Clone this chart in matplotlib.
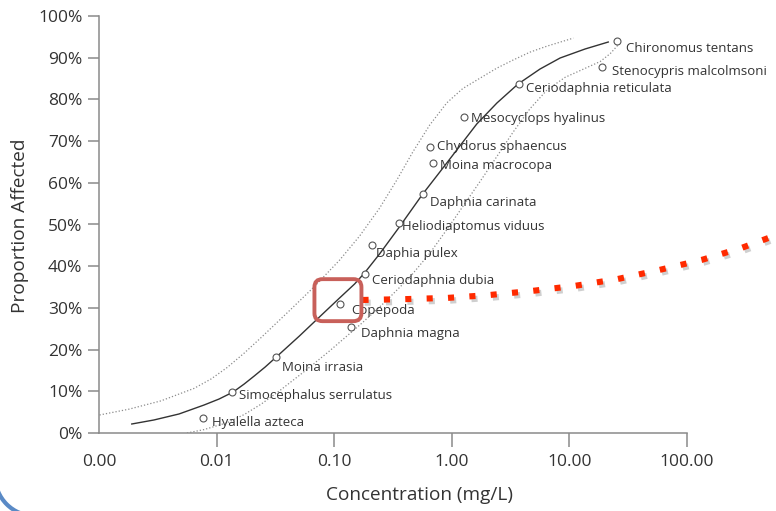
import numpy as np
import matplotlib
matplotlib.use("Agg")
import matplotlib.pyplot as plt
from matplotlib.patches import FancyBboxPatch, Arc
from matplotlib.transforms import Affine2D, IdentityTransform
import matplotlib.patheffects as pe

plt.rcParams['font.family'] = ['Open Sans', 'DejaVu Sans']

# species sensitivity points (mg/L, % affected)
species = ['Chironomus tentans', 'Stenocypris malcolmsoni', 'Ceriodaphnia reticulata',
           'Mesocyclops hyalinus', 'Chydorus sphaencus', 'Moina macrocopa',
           'Daphnia carinata', 'Heliodiaptomus viduus', 'Daphia pulex',
           'Ceriodaphnia dubia', 'Copepoda', 'Daphnia magna', 'Moina irrasia',
           'Simocephalus serrulatus', 'Hyalella azteca']
conc = [25.5, 19.0, 3.73, 1.27, 0.649, 0.689, 0.566, 0.353, 0.208, 0.181,
        0.113, 0.140, 0.0322, 0.01355, 0.00767]
affected = [94.0, 87.8, 83.7, 75.8, 68.6, 64.7, 57.3, 50.4, 45.1, 38.1,
            30.9, 25.4, 18.2, 9.8, 3.6]

# fitted curve
fit_x = [0.0019, 0.00293, 0.00479, 0.00782, 0.0105, 0.01383, 0.01717, 0.0209,
         0.0259, 0.0322, 0.0506, 0.0749, 0.111, 0.149, 0.181, 0.243, 0.353,
         0.566, 0.791, 1.17, 1.63, 2.42, 3.66, 5.63, 8.34, 13.6, 21.4]
fit_y = [2.16, 3.12, 4.56, 6.71, 8.15, 9.83, 11.75, 13.67,
         15.83, 18.23, 23.26, 27.82, 32.37, 35.73, 38.37, 42.93, 49.16,
         57.31, 62.59, 68.82, 74.10, 79.14, 83.69, 87.29, 89.93, 92.09, 93.76]

# confidence bands
up_x = [0.00101, 0.001795, 0.00336, 0.00643, 0.00897, 0.0123, 0.0172, 0.0240,
        0.0415, 0.0679, 0.111, 0.164, 0.243, 0.340, 0.465, 0.649, 0.906, 1.24,
        1.73, 2.42, 3.31, 4.63, 6.46, 10.8]
up_y = [4.32, 5.71, 7.70, 10.70, 12.95, 15.71, 19.18, 22.93,
        29.30, 35.13, 41.44, 47.19, 53.91, 60.62, 67.34, 73.86, 79.16, 82.61,
        85.06, 87.51, 89.42, 91.34, 92.78, 94.70]
lo_x = [0.0056, 0.00782, 0.0123, 0.0172, 0.0240, 0.0341, 0.0557, 0.0911,
        0.174, 0.268, 0.438, 0.649, 0.962, 1.29, 1.73, 2.42, 3.31, 4.63,
        6.46, 9.20, 13.1, 18.3, 22.3, 27.1]
lo_y = [0.0, 0.82, 2.47, 4.44, 6.95, 10.07, 14.75, 19.66,
        26.47, 31.32, 37.31, 43.07, 49.78, 55.01, 60.22, 66.33, 72.09, 77.79,
        82.28, 85.30, 87.24, 89.09, 91.01, 93.65]

# red annotation path from the Copepoda box
ann_x = [0.174, 0.397, 0.925, 2.11, 4.91, 11.2, 25.5, 58.2, 133, 292, 579]
ann_y = [31.9, 32.1, 32.4, 33.1, 34.1, 35.3, 36.9, 39.1, 41.5, 44.4, 47.5]

xticks = [0.001, 0.01, 0.1, 1, 10, 100]
xtick_labels = ['0.00', '0.01', '0.10', '1.00', '10.00', '100.00']
yticks = [0, 10, 20, 30, 40, 50, 60, 70, 80, 90, 100]
ytick_labels = ['0%', '10%', '20%', '30%', '40%', '50%', '60%', '70%', '80%', '90%', '100%']

# label offsets in pixels (right, down)
offsets = {
    'Chironomus tentans': (9, 7), 'Stenocypris malcolmsoni': (10, 5),
    'Ceriodaphnia reticulata': (7, 5), 'Mesocyclops hyalinus': (7, 2),
    'Chydorus sphaencus': (7, 0), 'Moina macrocopa': (7, 2),
    'Daphnia carinata': (7, 8), 'Heliodiaptomus viduus': (3, 4),
    'Daphia pulex': (4, 9), 'Ceriodaphnia dubia': (7, 6), 'Copepoda': (11, 6),
    'Daphnia magna': (10, 6), 'Moina irrasia': (6, 10),
    'Simocephalus serrulatus': (7, 3), 'Hyalella azteca': (9, 5),
}

fig = plt.figure(figsize=(7.76, 5.11), dpi=100)
ax = fig.add_axes([99 / 776, 1 - 433 / 511, (687 - 99) / 776, (433 - 16) / 511])

ax.plot(up_x, up_y, color='#8c8c8c', lw=0.9, linestyle=(0, (1, 1.6)))
ax.plot(lo_x, lo_y, color='#8c8c8c', lw=0.9, linestyle=(0, (1, 1.6)))
ax.plot(fit_x, fit_y, color='#333333', lw=1.0)
ax.plot(conc, affected, linestyle='none', marker='o', ms=5, mfc='white',
        mec='#555555', mew=0.8)

for name, x, y in zip(species, conc, affected):
    dx, dy = offsets[name]
    ax.annotate(name, (x, y), xytext=(dx, -dy), textcoords='offset pixels',
                ha='left', va='center', fontsize=9.5, color='#333333')

ax.set_xscale('log')
ax.set_xlim(0.001, 100)
ax.set_ylim(0, 100)
ax.set_xticks(xticks)
ax.set_xticklabels(xtick_labels)
ax.xaxis.set_minor_locator(matplotlib.ticker.NullLocator())
ax.set_yticks(yticks)
ax.set_yticklabels(ytick_labels)
ax.xaxis.get_major_ticks()[0].tick1line.set_visible(False)

for s in ['top', 'right']:
    ax.spines[s].set_visible(False)
for s in ['left', 'bottom']:
    ax.spines[s].set_color('#8a8a8a')
    ax.spines[s].set_linewidth(1.1)
ax.tick_params(axis='y', length=8, width=1.1, color='#8a8a8a', pad=4,
               labelsize=12.5, labelcolor='#333333')
ax.tick_params(axis='x', length=10, width=1.1, color='#8a8a8a', pad=5,
               labelsize=12.5, labelcolor='#333333')

ax.set_xlabel('Concentration (mg/L)', fontsize=13.7, color='#333333')
ax.xaxis.set_label_coords((419 - 99) / (687 - 99), -(486 - 433) / (433 - 16))
ax.set_ylabel('Proportion Affected', fontsize=13.7, color='#333333')
ax.yaxis.set_label_coords(-(99 - 29) / (687 - 99), (433 - 226) / (433 - 16))

# red dotted annotation
ax.plot(ann_x, ann_y, color='#ff2a00', lw=4.4, linestyle=(0, (1, 2.5)),
        dash_capstyle='butt', clip_on=False,
        path_effects=[pe.SimpleLineShadow(offset=(1.5, -2), shadow_color='#777777', alpha=0.35),
                      pe.Normal()])

# rounded box around Copepoda
px, py = ax.transData.transform((conc[10], affected[10]))
box = FancyBboxPatch((-26, -17), 47, 42, boxstyle='round,pad=0,rounding_size=8',
                     fill=False, edgecolor='#c8605a', lw=2.8,
                     transform=Affine2D().translate(px, py))
fig.add_artist(box)

# slide frame corner, bottom left
corner = Arc((35, 35), 80, 80, theta1=180, theta2=270, color='#5a8ac6', lw=3,
             transform=IdentityTransform())
fig.add_artist(corner)

fig.savefig('out.png', dpi=100)
